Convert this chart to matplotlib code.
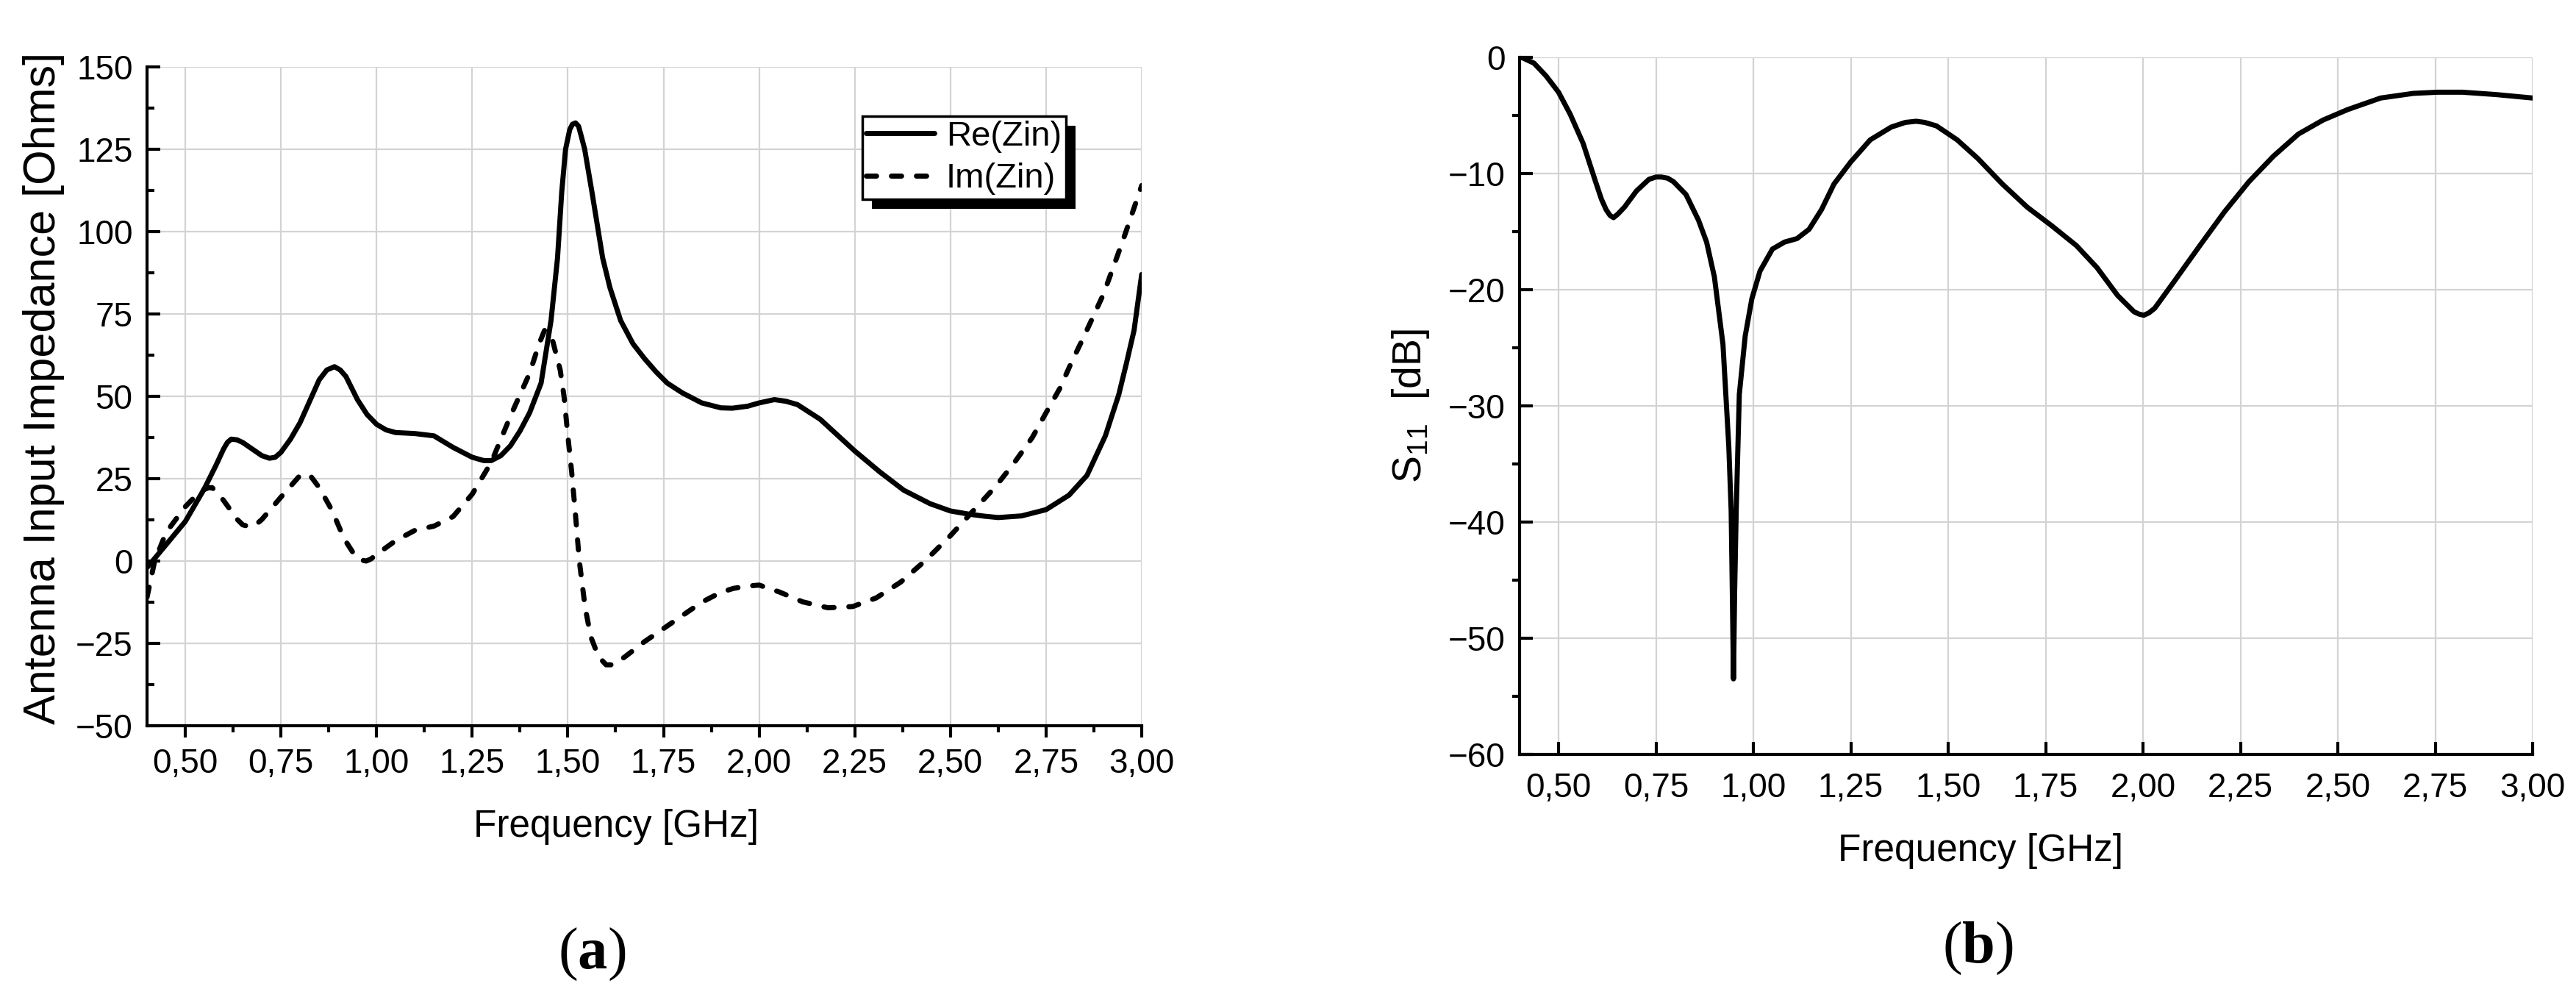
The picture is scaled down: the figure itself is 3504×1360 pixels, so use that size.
import matplotlib
matplotlib.use('Agg')
import matplotlib.pyplot as plt
from matplotlib.patches import Rectangle
from matplotlib.ticker import MultipleLocator, FuncFormatter

# --- data ---

# (a) antenna input impedance, real part
re_freq = [0.40, 0.45, 0.50, 0.55, 0.58, 0.60, 0.61, 0.62, 0.635, 0.65, 0.675, 0.70, 0.72,
           0.735, 0.75, 0.775, 0.80, 0.825, 0.85, 0.87, 0.89, 0.905, 0.92, 0.935, 0.95, 0.975,
           1.00, 1.025, 1.05, 1.10, 1.15, 1.20, 1.25, 1.28, 1.30, 1.325, 1.35, 1.375, 1.40,
           1.43, 1.456, 1.473, 1.484, 1.494, 1.505, 1.512, 1.52, 1.528, 1.535, 1.544, 1.563,
           1.591, 1.61, 1.638, 1.67, 1.70, 1.73, 1.76, 1.80, 1.85, 1.90, 1.93, 1.97, 2.00,
           2.04, 2.07, 2.10, 2.16, 2.25, 2.316, 2.378, 2.447, 2.50, 2.55, 2.59, 2.625, 2.686,
           2.75, 2.81, 2.857, 2.905, 2.94, 2.96, 2.98, 3.00]
re_zin = [-2, 5, 12, 22, 29, 34, 36, 37, 36.8, 36, 34, 32, 31.2,
          31.5, 33, 37, 42, 48.5, 55, 58, 59, 58, 56, 52.5, 49, 44.5,
          41.5, 39.8, 39, 38.7, 38, 34.5, 31.5, 30.5, 30.5, 32, 35, 39.5, 45,
          54, 73, 92, 112, 125, 131, 132.6, 133, 132, 129, 125, 112,
          92, 83, 73, 66, 61.5, 57.5, 54, 51, 48, 46.5, 46.4, 47, 48,
          49, 48.5, 47.5, 43, 33.4, 27, 21.5, 17.4, 15.2, 14.2, 13.6, 13.2, 13.7,
          15.6, 20, 26, 38, 50.5, 60, 70, 87]

# (a) antenna input impedance, imaginary part
im_freq = [0.40, 0.42, 0.45, 0.50, 0.54, 0.56, 0.57, 0.585, 0.60, 0.636, 0.65, 0.668, 0.68,
           0.70, 0.75, 0.797, 0.81, 0.825, 0.85, 0.883, 0.915, 0.947, 0.96, 0.973, 0.985,
           1.00, 1.05, 1.10, 1.15, 1.20, 1.25, 1.30, 1.35, 1.40, 1.425, 1.439, 1.45, 1.46,
           1.48, 1.49, 1.50, 1.51, 1.52, 1.53, 1.545, 1.56, 1.58, 1.60, 1.62, 1.65, 1.70,
           1.75, 1.80, 1.85, 1.90, 1.933, 1.97, 2.00, 2.053, 2.114, 2.18, 2.245, 2.306, 2.37,
           2.436, 2.50, 2.556, 2.618, 2.666, 2.714, 2.748, 2.786, 2.816, 2.85, 2.90, 2.95,
           3.00]
im_zin = [-11, 0, 8.7, 16.5, 21.3, 22.2, 22.3, 20.5, 18.4, 12.6, 11, 10.4, 10.6,
          12.6, 19.4, 25.6, 26.3, 26.2, 22.3, 15.5, 6.8, 1, 0.3, 0, 0.6,
          2, 6.2, 9.3, 10.6, 13.5, 20.3, 30, 44, 57, 66, 70, 69.5, 67,
          58, 50, 38, 27, 14, 0, -14, -23, -29, -31.5, -31.5, -29, -24.5,
          -20.5, -16.5, -12.5, -9.5, -8.3, -7.6, -7.3, -9.4, -12.4, -14.2, -13.8, -11.2, -6.4,
          0.3, 7.7, 14.8, 22.6, 29.7, 37.5, 44.6, 52.4, 60.2, 68.4, 81, 97,
          114]

# (b) reflection coefficient S11
s11_freq = [0.405, 0.437, 0.468, 0.50, 0.53, 0.563, 0.595, 0.61, 0.622, 0.632, 0.641, 0.652,
            0.669, 0.70, 0.732, 0.75, 0.764, 0.78, 0.795, 0.827, 0.859, 0.88, 0.90, 0.922,
            0.937, 0.943, 0.946, 0.949, 0.952, 0.956, 0.964, 0.979, 0.996, 1.017, 1.049, 1.08,
            1.112, 1.143, 1.175, 1.207, 1.25, 1.30, 1.354, 1.39, 1.418, 1.44, 1.47, 1.523,
            1.576, 1.639, 1.703, 1.766, 1.829, 1.882, 1.935, 1.977, 1.99, 2.002, 2.015, 2.03,
            2.082, 2.146, 2.209, 2.272, 2.335, 2.399, 2.462, 2.525, 2.61, 2.694, 2.757, 2.82,
            2.905, 3.00]
s11_db = [0, -0.5, -1.6, -3, -4.9, -7.4, -10.7, -12.2, -13.1, -13.6, -13.8, -13.5,
          -12.9, -11.5, -10.5, -10.3, -10.3, -10.4, -10.7, -11.8, -14, -15.9, -18.9, -24.7,
          -33.5, -39, -46, -53.5, -46, -39, -29, -24, -20.8, -18.4, -16.5, -15.9,
          -15.6, -14.8, -13.1, -10.9, -9, -7.1, -6, -5.6, -5.5, -5.6, -5.9, -7.1,
          -8.7, -10.9, -12.9, -14.5, -16.2, -18.1, -20.5, -21.9, -22.1, -22.2, -22.0, -21.6,
          -19.2, -16.2, -13.3, -10.7, -8.5, -6.6, -5.4, -4.5, -3.5, -3.1, -3.0, -3.0,
          -3.2, -3.5]

freq_ticks = [0.50, 0.75, 1.00, 1.25, 1.50, 1.75, 2.00, 2.25, 2.50, 2.75, 3.00]

W, H = 3504, 1360


def comma_fmt(x, pos):
  """Frequency tick labels with a decimal comma."""
  return '{:.2f}'.format(x).replace('.', ',')


def style_axes(ax):
  for side in ['top', 'right']:
    ax.spines[side].set_visible(False)
  for side in ['left', 'bottom']:
    ax.spines[side].set_linewidth(3)
  ax.grid(True, which='major', color='#d3d3d3', lw=1.6)
  ax.set_axisbelow(True)
  ax.set_xticks(freq_ticks)
  ax.xaxis.set_major_formatter(FuncFormatter(comma_fmt))
  ax.set_xlim(0.4, 3.0)


def main():
  plt.rcParams['font.family'] = ['Liberation Sans', 'DejaVu Sans']
  plt.rcParams['mathtext.fontset'] = 'custom'
  plt.rcParams['mathtext.rm'] = 'Liberation Sans'
  plt.rcParams['mathtext.bf'] = 'Liberation Serif:bold'

  fig = plt.figure(figsize=(W / 100, H / 100), dpi=100)

  # --- (a) impedance ---
  ax1 = fig.add_axes([200 / W, (H - 987) / H, 1353 / W, 896 / H])
  style_axes(ax1)
  ax1.plot(re_freq, re_zin, color='black', lw=5, solid_capstyle='round',
           solid_joinstyle='round', label='Re(Zin)')
  ax1.plot(im_freq, im_zin, color='black', lw=5, dashes=(2.0, 2.9),
           dash_capstyle='round', dash_joinstyle='round', label='Im(Zin)')
  ax1.set_ylim(-50, 150)
  ax1.yaxis.set_major_locator(MultipleLocator(25))
  ax1.yaxis.set_minor_locator(MultipleLocator(12.5))
  ax1.xaxis.set_minor_locator(MultipleLocator(0.125))
  ax1.tick_params(axis='y', which='major', direction='in', length=13, width=3, labelsize=33, pad=14)
  ax1.tick_params(axis='y', which='minor', direction='in', length=7, width=3)
  ax1.tick_params(axis='x', which='major', direction='out', length=11.5, width=3, labelsize=33, pad=10)
  ax1.tick_params(axis='x', which='minor', direction='out', length=6.5, width=3)
  ax1.set_xlabel('Frequency [GHz]', fontsize=37)
  ax1.xaxis.set_label_coords(0.4715, -0.126)
  ax1.set_ylabel('Antenna Input Impedance [Ohms]', fontsize=44)
  ax1.yaxis.set_label_coords(-0.083, 0.512)

  leg = ax1.legend(loc='upper left', bbox_to_anchor=(0.719, 0.925), fontsize=34,
                   frameon=True, fancybox=False, edgecolor='black', framealpha=1,
                   borderpad=0.12, handlelength=1.95, handletextpad=0.35,
                   labelspacing=0.28, borderaxespad=0)
  leg.get_frame().set_linewidth(2.5)

  # --- (b) S11 ---
  ax2 = fig.add_axes([2067 / W, (H - 1026) / H, 1378 / W, 948 / H])
  style_axes(ax2)
  ax2.plot(s11_freq, s11_db, color='black', lw=5, solid_capstyle='round',
           solid_joinstyle='round')
  ax2.set_ylim(-60, 0)
  ax2.yaxis.set_major_locator(MultipleLocator(10))
  ax2.yaxis.set_minor_locator(MultipleLocator(5))
  ax2.tick_params(axis='x', which='major', direction='in', length=12, width=3, labelsize=33, pad=17)
  ax2.tick_params(axis='y', which='major', direction='in', length=13, width=3, labelsize=33, pad=14)
  ax2.tick_params(axis='y', which='minor', direction='out', length=7, width=3)
  ax2.set_xlabel('Frequency [GHz]', fontsize=37)
  ax2.xaxis.set_label_coords(0.455, -0.113)
  ax2.set_ylabel(r'S$_{11}$  [dB]', fontsize=40)
  ax2.yaxis.set_label_coords(-0.087, 0.5)

  # panel captions
  fig.text(805 / W, 1 - 1298 / H, r'($\mathbf{a}$)', family='Liberation Serif',
           fontsize=58, ha='center', va='center')
  fig.text(2690 / W, 1 - 1290 / H, r'($\mathbf{b}$)', family='Liberation Serif',
           fontsize=58, ha='center', va='center')

  # solid black drop shadow behind the legend box (offset ~13 px)
  fig.canvas.draw()
  bb = leg.get_window_extent().transformed(ax1.transAxes.inverted())
  dx = 13 / 1353
  dy = 13 / 896
  ax1.add_patch(Rectangle((bb.x0 + dx, bb.y0 - dy), bb.width, bb.height,
                          transform=ax1.transAxes, facecolor='black', edgecolor='none',
                          zorder=4.9, clip_on=False))

  plt.savefig('out.png', dpi=100)


if __name__ == '__main__':
  main()
